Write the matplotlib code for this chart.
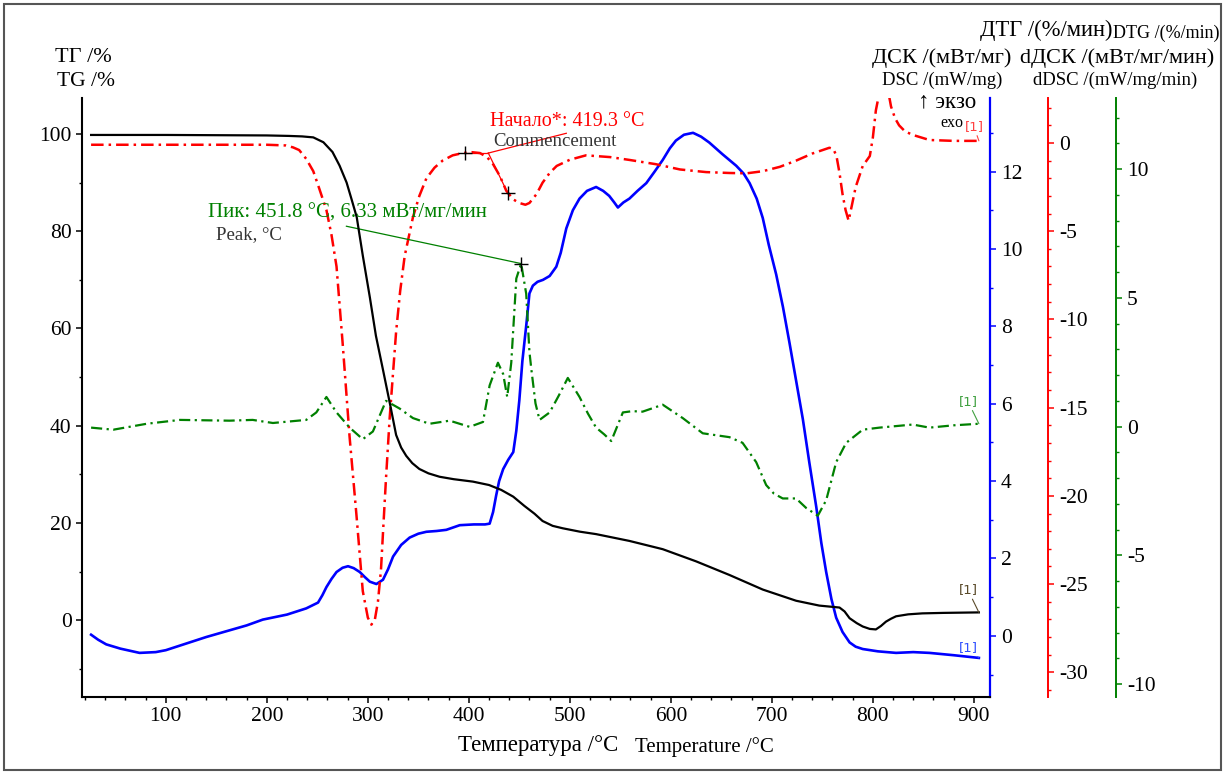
import matplotlib

matplotlib.use("Agg")
import matplotlib.pyplot as plt
from matplotlib.patches import Rectangle
from matplotlib.ticker import MultipleLocator

plt.rcParams["font.family"] = ["Liberation Serif", "DejaVu Serif"]
plt.rcParams["axes.unicode_minus"] = False

W, H = 1227, 776

# --- data (temperature in °C) ---
temp_tg = [26, 100, 200, 222, 235, 246, 256, 265, 272, 279,
           284, 289, 295, 302, 308, 315, 322, 328, 333, 338,
           344, 351, 360, 371, 385, 404, 420, 432, 444, 455,
           465, 473, 483, 493, 510, 526, 559, 592, 625, 658,
           691, 724, 747, 767, 772, 777, 784, 790, 797, 803,
           808, 813, 818, 823, 835, 849, 870, 905]
tg = [99.8, 99.8, 99.7, 99.6, 99.5, 99.3, 98.3, 96.3, 93.5, 90.0,
      86.5, 82.9, 75.0, 66.4, 58.5, 51.5, 44.4, 38.1, 35.5, 33.8,
      32.3, 31.1, 30.2, 29.5, 29.0, 28.5, 27.8, 26.8, 25.4, 23.5,
      21.9, 20.4, 19.4, 18.9, 18.2, 17.7, 16.3, 14.6, 12.1, 9.3,
      6.3, 4.0, 3.0, 2.6, 1.8, 0.4, -0.6, -1.3, -1.8, -1.9,
      -1.2, -0.3, 0.3, 0.8, 1.2, 1.4, 1.5, 1.6]

temp_dtg = [26, 100, 200, 219, 226, 232, 239, 246, 252, 259,
            264, 269, 275, 282, 288.6, 295, 300, 303.5, 307, 310,
            313, 315, 318, 321.6, 325, 328, 332, 336.5, 344.7, 351,
            358, 366, 374, 384, 394, 403, 411, 418, 424, 431,
            437, 444, 450, 456, 460, 467, 473, 480, 487, 500,
            516, 540, 559, 585, 609, 635, 658, 675, 691, 708,
            724, 740, 757, 761, 764, 767, 770, 773, 776, 779,
            783, 790, 797, 800, 803, 807, 811, 815, 818, 822,
            826, 832, 840, 856, 880, 905]
dtg = [-0.1, -0.1, -0.1, -0.14, -0.25, -0.4, -0.9, -1.6, -2.6, -3.8,
       -5.2, -7.0, -11.3, -16.7, -21.0, -25.4, -26.9, -27.3, -27.0, -26.0,
       -24.2, -22.1, -19.0, -15.6, -13.0, -10.7, -8.4, -6.4, -4.2, -3.0,
       -2.0, -1.4, -1.0, -0.7, -0.57, -0.52, -0.57, -0.8, -1.2, -1.9,
       -2.7, -3.2, -3.4, -3.5, -3.4, -2.9, -2.25, -1.7, -1.3, -0.95,
       -0.7, -0.8, -0.96, -1.2, -1.5, -1.65, -1.7, -1.72, -1.6, -1.35,
       -1.0, -0.6, -0.27, -0.35, -0.74, -1.7, -2.9, -3.8, -4.4, -3.6,
       -2.5, -1.3, -0.74, 0.3, 1.85, 3.0, 3.5, 3.0, 2.07, 1.4,
       1.0, 0.65, 0.45, 0.17, 0.12, 0.12]

temp_dsc = [26, 33, 41, 55, 74, 90, 100, 120, 140, 160,
            180, 196, 220, 239, 250.7, 255, 259, 264, 269, 275,
            280.4, 286, 292, 297, 302, 308.5, 315, 320, 325, 333,
            341.4, 350, 358, 368, 377.7, 391, 405, 416, 420.6, 424,
            427, 430, 434, 439, 444, 447, 450, 453, 457, 460,
            463.4, 468, 473.4, 480, 486.6, 491, 496.5, 503, 509.6, 517,
            526, 533, 539, 544, 547.6, 553, 559, 567, 575.7, 584,
            592, 599, 605, 613, 622, 630, 638, 651, 664.7, 672,
            678, 685, 691, 697, 704.3, 711, 717.5, 724, 730.7, 737,
            744, 749, 753.8, 759, 763.7, 770, 777, 783, 790, 805,
            823, 840, 856, 880, 905]
dsc = [0.03, -0.1, -0.22, -0.33, -0.44, -0.42, -0.37, -0.2, -0.03, 0.12,
       0.27, 0.42, 0.55, 0.71, 0.86, 1.05, 1.26, 1.47, 1.65, 1.76,
       1.8, 1.75, 1.65, 1.52, 1.4, 1.34, 1.45, 1.72, 2.05, 2.35,
       2.54, 2.64, 2.69, 2.71, 2.74, 2.86, 2.88, 2.88, 2.9, 3.2,
       3.62, 4.0, 4.31, 4.55, 4.75, 5.3, 6.09, 7.1, 8.06, 8.85,
       9.05, 9.15, 9.2, 9.3, 9.54, 9.9, 10.53, 11.0, 11.3, 11.5,
       11.6, 11.5, 11.37, 11.2, 11.07, 11.2, 11.3, 11.5, 11.7, 12.0,
       12.3, 12.6, 12.8, 12.95, 13.0, 12.9, 12.75, 12.45, 12.15, 11.95,
       11.7, 11.3, 10.8, 10.1, 9.34, 8.5, 7.57, 6.6, 5.6, 4.5,
       3.33, 2.4, 1.65, 0.95, 0.47, 0.1, -0.17, -0.28, -0.34, -0.4,
       -0.44, -0.42, -0.44, -0.5, -0.57]

temp_ddsc = [26, 48, 81, 114, 163, 186, 206, 239, 249, 259,
             269, 282, 295, 305, 318, 331.5, 344.7, 361, 381, 400.8,
             414, 420.6, 428.8, 434, 438, 442, 447, 451.8, 456.8, 460,
             462, 466, 470, 480, 489, 498, 509.6, 518, 526, 534,
             541, 552.5, 562, 572, 592, 611.8, 631.6, 658, 671, 684.5,
             694.4, 702, 710.8, 724, 734, 745.5, 753.8, 763.7, 773.6, 790,
             806.5, 839.5, 856, 880, 905]
ddsc = [-0.04, -0.12, 0.11, 0.26, 0.23, 0.26, 0.14, 0.26, 0.55, 1.15,
        0.55, -0.04, -0.49, -0.19, 1.0, 0.7, 0.33, 0.11, 0.23, -0.01,
        0.18, 1.6, 2.48, 2.04, 1.15, 2.48, 5.75, 6.33, 5.16, 2.9,
        2.19, 0.9, 0.26, 0.55, 1.2, 1.89, 1.15, 0.5, -0.04, -0.3,
        -0.56, 0.55, 0.6, 0.58, 0.85, 0.33, -0.26, -0.41, -0.63, -1.38,
        -2.27, -2.6, -2.79, -2.79, -3.16, -3.46, -2.86, -1.38, -0.63, -0.12,
        -0.04, 0.08, -0.04, 0.05, 0.11]

onset_temp, onset_dtg = 419.3, -0.57
onset_marks_t = [396, 438.7]
onset_marks_v = [-0.57, -2.86]
peak_temp, peak_ddsc = 451.8, 6.33

RED, BLUE, GREEN = "#ff0000", "#0000ff", "#008000"

fig = plt.figure(figsize=(W / 100, H / 100), dpi=100)
fig.patch.set_facecolor("white")
fig.patches.append(Rectangle((4 / W, 6 / H), 1217 / W, 766 / H, transform=fig.transFigure,
                             fill=False, edgecolor="#555555", lw=1.5))

ax = fig.add_axes([82 / W, 1 - 697 / H, 908 / W, 599 / H])
ax_dsc = ax.twinx()
ax_dtg = ax.twinx()
ax_ddsc = ax.twinx()

# curves
ax_dtg.plot(temp_dtg, dtg, color=RED, lw=1.8, dashes=[5, 2, 1, 2])
ax_ddsc.plot(temp_ddsc, ddsc, color=GREEN, lw=1.6, dashes=[5, 2, 1, 2])
ax_dsc.plot(temp_dsc, dsc, color=BLUE, lw=1.9)
ax.plot(temp_tg, tg, color="black", lw=1.6)
ax.set_zorder(ax_dsc.get_zorder() + 1)
ax.patch.set_visible(False)

ax.set_xlim(17, 916)
ax.set_ylim(-15.8, 107.4)
ax_dsc.set_ylim(-1.58, 13.9)
ax_dtg.set_ylim(-31.4, 2.55)
ax_ddsc.set_ylim(-10.5, 12.76)

# spines
for a in (ax, ax_dsc, ax_dtg, ax_ddsc):
    a.spines["top"].set_visible(False)
for a in (ax_dsc, ax_dtg, ax_ddsc):
    a.spines["left"].set_visible(False)
    a.spines["bottom"].set_visible(False)
ax.spines["right"].set_visible(False)
ax.spines["left"].set_linewidth(1.5)
ax.spines["bottom"].set_linewidth(1.5)
ax_dsc.spines["right"].set_color(BLUE)
ax_dsc.spines["right"].set_linewidth(1.6)
ax_dtg.spines["right"].set_position(("axes", (1048 - 82) / 908))
ax_dtg.spines["right"].set_color(RED)
ax_dtg.spines["right"].set_linewidth(1.4)
ax_ddsc.spines["right"].set_position(("axes", (1116 - 82) / 908))
ax_ddsc.spines["right"].set_color(GREEN)
ax_ddsc.spines["right"].set_linewidth(1.4)

# ticks
ax.xaxis.set_major_locator(MultipleLocator(100))
ax.xaxis.set_minor_locator(MultipleLocator(20))
ax.yaxis.set_major_locator(MultipleLocator(20))
ax.yaxis.set_minor_locator(MultipleLocator(10))
ax_dsc.yaxis.set_major_locator(MultipleLocator(2))
ax_dsc.yaxis.set_minor_locator(MultipleLocator(1))
ax_dtg.yaxis.set_major_locator(MultipleLocator(5))
ax_dtg.yaxis.set_minor_locator(MultipleLocator(1))
ax_ddsc.yaxis.set_major_locator(MultipleLocator(5))
ax_ddsc.yaxis.set_minor_locator(MultipleLocator(1))

ax.tick_params(which="major", length=4.5, width=1.1, labelsize=15.5, pad=3)
ax.tick_params(which="minor", length=2.5, width=1.0)
for a, c in ((ax_dsc, BLUE), (ax_dtg, RED), (ax_ddsc, GREEN)):
    a.tick_params(axis="y", which="major", length=4, width=1.1, color=c,
                  labelsize=15.5, labelcolor="black", pad=4)
    a.tick_params(axis="y", which="minor", length=2.5, width=1.0, color=c)

# analysis annotations
ax_dtg.plot([onset_marks_t[0], onset_temp], [onset_marks_v[0], onset_dtg], color=RED, lw=0.9)
ax_dtg.plot([onset_temp, onset_marks_t[1]], [onset_dtg, onset_marks_v[1]], color=RED, lw=0.9)
ax_dtg.plot([onset_temp, 496.5], [onset_dtg, 0.55], color=RED, lw=0.9)
ax_dtg.plot(onset_marks_t, onset_marks_v, "+", color="black", ms=10, mew=1.0)
ax_ddsc.plot([peak_temp, 278.8], [peak_ddsc, 7.78], color=GREEN, lw=0.9)
ax_ddsc.plot([peak_temp], [peak_ddsc], "+", color="black", ms=10, mew=1.0)

# curve end tags
for a, t, v, c, dx, dy in ((ax, temp_tg, tg, "#5a4a2a", -11, 16),
                           (ax_dsc, temp_dsc, dsc, "#3050ff", -11, 4),
                           (ax_dtg, temp_dtg, dtg, "#ff4040", -5, 8),
                           (ax_ddsc, temp_ddsc, ddsc, "#40a040", -11, 16)):
    a.annotate("[1]", xy=(t[-1], v[-1]), xytext=(dx, dy), textcoords="offset pixels",
               color=c, fontsize=9.5, family="DejaVu Sans", ha="center", va="bottom",
               arrowprops=dict(arrowstyle="-", color=c, lw=0.8, shrinkA=0, shrinkB=0))


def ftext(x, y, s, size, color="black", **kw):
    fig.text(x / W, 1 - y / H, s, fontsize=size, color=color, ha="left", va="center", **kw)


ftext(55, 58, "ТГ /%", 16)
ftext(57, 82, "TG /%", 15.5)
ftext(980, 30, "ДТГ /(%/мин)", 16.3)
ftext(1113, 33, "DTG /(%/min)", 13)
ftext(872, 58, "ДСК /(мВт/мг)", 16)
ftext(1020, 58, "dДСК /(мВт/мг/мин)", 16)
ftext(882, 80, "DSC /(mW/mg)", 13.5)
ftext(1033, 80, "dDSC /(mW/mg/min)", 13.5)
ftext(918, 102, "↑ экзо", 16.5)
ftext(940, 123, "exo", 11.5)
ftext(490, 122, "Начало*: 419.3 °C", 14.5, RED)
ftext(493, 141, "Commencement", 13.5, "#333333")
ftext(208, 213, "Пик: 451.8 °C, 6.33 мВт/мг/мин", 15, GREEN)
ftext(216, 235, "Peak, °C", 13.5, "#333333")
ftext(458, 745, "Температура /°C", 16.5)
ftext(635, 747, "Temperature /°C", 15)

fig.savefig("out.png", dpi=100, facecolor="white")
